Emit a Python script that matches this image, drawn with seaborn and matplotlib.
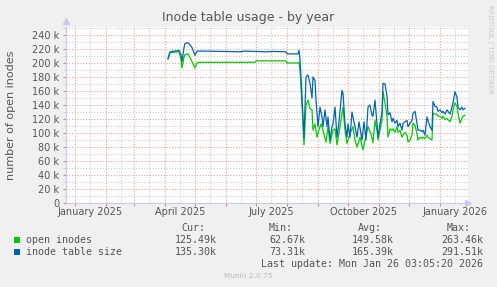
import matplotlib
matplotlib.use("Agg")
import matplotlib.pyplot as plt
import matplotlib.dates as mdates
from matplotlib.patches import Rectangle
from matplotlib.ticker import MultipleLocator, FuncFormatter, FixedLocator
import seaborn as sns
import pandas as pd
import numpy as np

# ---------------- data (days since 2025-01-01, values in thousands) ----------------
size_days = [93, 95, 104, 106, 107, 109, 110, 113, 115, 117, 120, 122, 130, 150, 165, 170,
             190, 200, 211, 212, 223, 224, 225, 227, 229,
             231, 233, 235, 237, 238, 240, 241, 243, 245, 247, 248, 250, 252, 253, 255, 257,
             258, 260, 262, 264, 267, 268, 270, 272, 273, 275, 277, 280, 282, 284, 287, 289,
             291, 293, 295, 297, 298, 300, 302, 303, 305, 307, 308, 310, 312, 313, 315, 317,
             318, 320, 322, 323, 325, 327, 328, 330, 332, 333, 335, 337, 338, 340, 342, 343,
             345, 347, 348, 350, 352, 353, 355, 357, 358, 360, 362, 363, 365, 367, 368, 370,
             372, 373, 375, 377, 378, 380, 382, 383, 385, 387, 388, 390]
size_vals = [206, 216, 218, 212, 202, 222, 228, 229, 226, 222, 211, 217, 217, 216.5, 216, 217,
             216, 216.5, 216, 213, 213, 218, 205, 152, 93,
             180, 183, 171, 150, 180, 175, 147, 109, 137, 123, 109, 133, 109, 123, 90, 109,
             113, 137, 94, 116, 161, 157, 113, 94, 113, 94, 130, 109, 94, 116, 90, 116,
             90, 137, 140, 125, 124, 147, 113, 94, 113, 129, 171, 170, 153, 126, 129, 116,
             121, 114, 118, 109, 114, 104, 114, 116, 118, 109, 114, 118, 128, 131, 114, 104,
             104, 102, 104, 97, 123, 118, 109, 104, 145, 138, 137, 131, 133, 129, 131, 127,
             133, 131, 127, 137, 143, 159, 151, 137, 133, 137, 133, 135.3]

open_days = [93, 95, 104, 106, 107, 109, 110, 113, 115, 117, 119, 120, 122, 124, 180, 181,
             211, 212, 223, 224, 225, 227, 229,
             231, 233, 235, 237, 238, 240, 242, 243, 246, 248, 251, 253, 255, 258, 260, 262,
             265, 268, 270, 272, 275, 278, 280, 282, 285, 288, 290, 293, 296, 298, 300, 302,
             303, 305, 307, 308, 310, 312, 313, 315, 317, 318, 320, 322, 323, 325, 327, 328,
             330, 332, 333, 335, 337, 338, 340, 342, 343, 345, 347, 348, 350, 352, 353, 355,
             357, 358, 360, 362, 363, 365, 367, 368, 370, 372, 373, 375, 377, 378, 380, 382,
             383, 385, 387, 388, 390]
open_vals = [206, 215, 216, 206, 193, 208, 212, 213, 208, 202, 196, 193, 200, 201, 201, 203,
             203, 200, 200, 201, 190, 140, 83,
             140, 147, 135, 133, 104, 113, 94, 100, 113, 104, 87, 109, 85, 104, 106, 83,
             109, 137, 104, 85, 99, 109, 90, 80, 94, 76, 90, 109, 99, 86, 118, 104,
             90, 104, 118, 159, 143, 124, 94, 106, 104, 106, 101, 109, 101, 104, 94, 97,
             101, 97, 87, 90, 97, 114, 111, 99, 90, 94, 92, 94, 92, 97, 94, 92,
             90, 128, 127, 127, 124, 124, 121, 124, 119, 121, 119, 116, 124, 133, 143, 138,
             128, 114, 121, 124, 125.5]

series_names = ["open inodes", "inode table size"]
series_colors = ["#00CC00", "#0066B3"]
stat_headers = ["Cur:", "Min:", "Avg:", "Max:"]
open_stats = ["125.49k", "62.67k", "149.58k", "263.46k"]
size_stats = ["135.30k", "73.31k", "165.39k", "291.51k"]
title = "Inode table usage - by year"
ylabel = "number of open inodes"
last_update = "Last update: Mon Jan 26 03:05:20 2026"
footer = "Munin 2.0.75"
side_text = "RRDTOOL / TOBI OETIKER"

# ---------------- build frame ----------------
base = pd.Timestamp("2025-01-01")
df = pd.concat([
    pd.DataFrame({"date": base + pd.to_timedelta(open_days, unit="D"),
                  "value": np.array(open_vals) * 1000.0, "series": series_names[0]}),
    pd.DataFrame({"date": base + pd.to_timedelta(size_days, unit="D"),
                  "value": np.array(size_vals) * 1000.0, "series": series_names[1]}),
])

W, H = 497, 287
BG = "#F0F0F0"
TXT = "#555555"
fig = plt.figure(figsize=(W / 100, H / 100), dpi=100)
fig.patch.set_facecolor(BG)

ax_l, ax_r, ax_b = 66, 468, 203
ymax = 252000
ax_t = ax_b - ymax / 1000 * 0.7
ax = fig.add_axes([ax_l / W, 1 - ax_b / H, (ax_r - ax_l) / W, (ax_b - ax_t) / H])
ax.set_facecolor("white")

sns.lineplot(data=df, x="date", y="value", hue="series", hue_order=series_names,
             palette=series_colors, linewidth=0.9, legend=False, ax=ax, zorder=3)

ax.set_xlim(pd.Timestamp("2024-12-23"), pd.Timestamp("2026-01-29"))
ax.set_ylim(0, ymax)

# grid
ax.yaxis.set_major_locator(MultipleLocator(20000))
ax.yaxis.set_minor_locator(MultipleLocator(10000))
ax.yaxis.set_major_formatter(FuncFormatter(lambda v, p: "0" if v == 0 else f"{int(v/1000)} k"))
ax.xaxis.set_major_locator(mdates.MonthLocator(bymonthday=1))
ax.xaxis.set_minor_locator(mdates.MonthLocator(bymonthday=16))
ax.xaxis.set_major_formatter(FuncFormatter(lambda v, p: ""))

def minor_fmt(v, p):
    d = mdates.num2date(v)
    if d.month in (1, 4, 7, 10):
        return d.strftime("%B %Y")
    return ""
ax.xaxis.set_minor_formatter(FuncFormatter(minor_fmt))

ax.grid(which="major", color="#E8A0A0", linestyle=(0, (1, 1.5)), linewidth=0.8, zorder=0)
ax.grid(which="minor", color="#CCCCCC", linestyle=(0, (1, 1.5)), linewidth=0.8, zorder=0)
ax.set_axisbelow(True)

ax.tick_params(axis="both", which="both", labelsize=7, labelcolor=TXT)
ax.tick_params(axis="x", which="major", length=2, color="#E08080", pad=1)
ax.tick_params(axis="x", which="minor", length=0, pad=3)
ax.tick_params(axis="y", which="major", length=2, color="#E08080", pad=3)
ax.tick_params(axis="y", which="minor", length=2, color="#CCCCCC")

for s in ["top", "right"]:
    ax.spines[s].set_visible(False)
for s in ["left", "bottom"]:
    ax.spines[s].set_color("#C8C8F0")
    ax.spines[s].set_linewidth(0.8)
ax.set_xlabel("")
ax.set_ylabel("")

# axis arrows
ax.plot([1.0], [0], marker=">", color="#C8C8F0", markersize=5, transform=ax.transAxes, clip_on=False)
ax.plot([0], [1.03], marker="^", color="#C8C8F0", markersize=5, transform=ax.transAxes, clip_on=False)

def fy(y):
    return 1 - y / H

fig.text(248.5 / W, fy(18), title, ha="center", va="center", fontsize=9, color=TXT)
fig.text(11 / W, fy(115), ylabel, ha="center", va="center", rotation=90, fontsize=8, color=TXT)
fig.text(490 / W, fy(5), side_text, ha="center", va="top", rotation=270, fontsize=5, color="#C8C8C8")

mono = "DejaVu Sans Mono"
ms = 7.2
hdr_x = [181, 269, 358, 447]
val_r = [217, 305, 394, 483]
for hx, h in zip(hdr_x, stat_headers):
    fig.text(hx / W, fy(228), h, ha="left", va="center", family=mono, fontsize=ms, color=TXT)
for row_y, name, col, stats in [(240, series_names[0], series_colors[0], open_stats),
                                (252, series_names[1], series_colors[1], size_stats)]:
    fig.add_artist(Rectangle((14 / W, fy(row_y + 3)), 6 / W, 6 / H, transform=fig.transFigure,
                             facecolor=col, edgecolor="none"))
    fig.text(26 / W, fy(row_y), name, ha="left", va="center", family=mono, fontsize=ms, color=TXT)
    for vx, v in zip(val_r, stats):
        fig.text(vx / W, fy(row_y), v, ha="right", va="center", family=mono, fontsize=ms, color=TXT)

fig.text(483 / W, fy(264), last_update, ha="right", va="center", family=mono, fontsize=ms, color=TXT)
fig.text(248 / W, fy(276), footer, ha="center", va="center", fontsize=5.3, color="#BBBBBB")

fig.savefig("out.png", dpi=100, facecolor=BG)
